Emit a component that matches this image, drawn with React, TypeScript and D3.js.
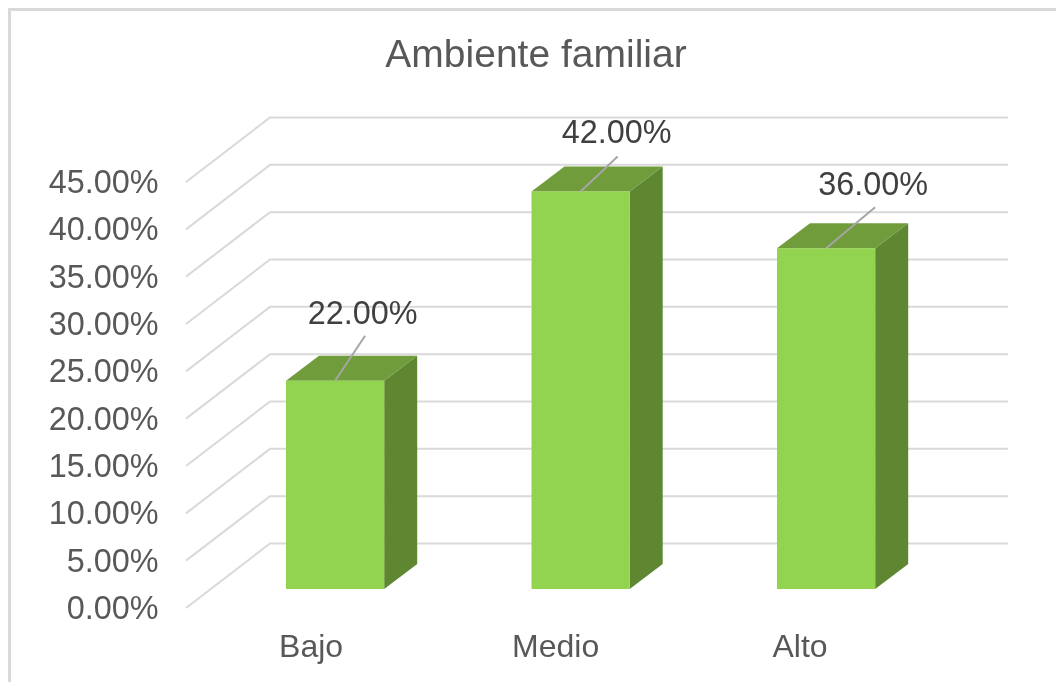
import React from "react";
import * as d3 from "d3";

const title = "Ambiente familiar";
const categories = ["Bajo", "Medio", "Alto"];
const values = [22, 42, 36];
const valueLabels = ["22.00%", "42.00%", "36.00%"];
const ticks = [0, 5, 10, 15, 20, 25, 30, 35, 40, 45];

const FONT = '"Liberation Sans", Arial, sans-serif';
const W = 1056, H = 682;

// front-wall value scale, and the offset to the back wall of the 3D floor
const y = d3.scaleLinear().domain([0, 45]).range([608, 182]);
const wallDX = 84, wallDY = -64.5;
const x0 = 186, lineEnd = 1008;
// bars sit part way into the floor
const barBase = 589;
const unit = y(0) - y(1);
const x = d3.scaleBand<string>().domain(categories).range([212.35, 948.85]).paddingInner(0.6).paddingOuter(0.3);
const depthX = 33, depthY = -25;
const leaderEnds = [
  { dx: 30, dy: -45 },
  { dx: 37, dy: -35 },
  { dx: 49, dy: -41 },
];
const labelPos = [
  { dx: 27.5, dy: -57 },
  { dx: 36, dy: -48 },
  { dx: 47, dy: -53 },
];
const catOffset = [-24, -25, -26];

export default function App() {
  const bw = x.bandwidth();
  return (
    <svg width={W} height={H} viewBox={`0 0 ${W} ${H}`} style={{ position: "fixed", left: 0, top: 0, background: "#fff" }} fontFamily={FONT}>
      <defs>
        <filter id="soft" x="0" y="0" width="100%" height="100%">
          <feGaussianBlur stdDeviation="0.5" />
        </filter>
      </defs>
      <rect width={W} height={H} fill="#fff" />
      <g filter="url(#soft)">
        <rect width={W} height={H} fill="#fff" />
        <path d={`M9.5 ${H + 5} V9.5 H${W + 5}`} fill="none" stroke="#d9d9d9" strokeWidth={3} />
        <text x={536} y={67} textAnchor="middle" fontSize={39} fill="#595959">{title}</text>

        {ticks.map((t) => (
          <g key={t}>
            <path d={`M${x0} ${y(t)} L${x0 + wallDX} ${y(t) + wallDY} H${lineEnd}`} fill="none" stroke="#d9d9d9" strokeWidth={2} />
            <text x={158.5} y={y(t) + 11} textAnchor="end" fontSize={32.4} fill="#595959">{`${t.toFixed(2)}%`}</text>
          </g>
        ))}

        {categories.map((c, i) => {
          const l = x(c)!;
          const r = l + bw;
          const top = barBase - values[i] * unit;
          const cx = (l + r) / 2;
          return (
            <g key={c}>
              <path d={`M${r} ${barBase} L${r + depthX} ${barBase + depthY} V${top + depthY} L${r} ${top} Z`} fill="#5e8731" />
              <path d={`M${l} ${top} L${l + depthX} ${top + depthY} H${r + depthX} L${r} ${top} Z`} fill="#6f9c3b" />
              <rect x={l} y={top} width={bw} height={barBase - top} fill="#92d350" />
              <line x1={cx} y1={top} x2={cx + leaderEnds[i].dx} y2={top + leaderEnds[i].dy} stroke="#a6a6a6" strokeWidth={2} />
              <text x={cx + labelPos[i].dx} y={top + labelPos[i].dy} textAnchor="middle" fontSize={32.4} fill="#404040">{valueLabels[i]}</text>
              <text x={cx + catOffset[i]} y={657} textAnchor="middle" fontSize={32} fill="#595959">{c}</text>
            </g>
          );
        })}
      </g>
    </svg>
  );
}
